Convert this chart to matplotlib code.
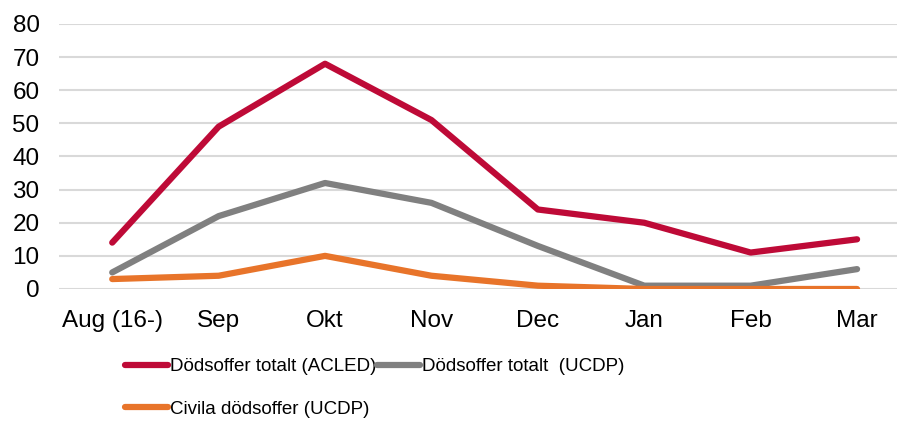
import numpy as np
import matplotlib.pyplot as plt

plt.rcParams['font.family'] = ['Liberation Sans', 'DejaVu Sans']

months = ["Aug (16-)", "Sep", "Okt", "Nov", "Dec", "Jan", "Feb", "Mar"]
acled_total = [14, 49, 68, 51, 24, 20, 11, 15]
ucdp_total = [5, 22, 32, 26, 13, 1, 1, 6]
ucdp_civil = [3, 4, 10, 4, 1, 0, 0, 0]

series = [
    ("Dödsoffer totalt (ACLED)", acled_total, "#BE0A37"),
    ("Dödsoffer totalt  (UCDP)", ucdp_total, "#808080"),
    ("Civila dödsoffer (UCDP)", ucdp_civil, "#E8742A"),
]

fig = plt.figure(figsize=(8.97, 4.23), dpi=100)
ax = fig.add_axes([0.0658, 0.3168, 0.949, 0.6265])

x = np.arange(len(months))
lines = []
for label, vals, color in series:
    ln, = ax.plot(x, vals, color=color, lw=4.5, label=label,
                  solid_capstyle='round', solid_joinstyle='round')
    lines.append(ln)

ax.set_xlim(-0.5, len(months) - 0.5)
ax.set_ylim(0, 80)
ax.set_yticks(range(0, 81, 10))
ax.set_xticks(x)
ax.set_xticklabels(months)
ax.grid(axis='y', color='#D9D9D9', lw=1.5)
ax.set_axisbelow(True)
for s in ax.spines.values():
    s.set_visible(False)
ax.tick_params(axis='both', length=0, labelsize=17.5, colors='black')
ax.tick_params(axis='y', pad=14)
ax.tick_params(axis='x', pad=15)

# row-major order: ACLED, UCDP on first row, civil on second
order = [0, 2, 1]
fig.legend([lines[i] for i in order], [series[i][0] for i in order],
           loc='upper left', bbox_to_anchor=(0.139, 0.153), ncol=2,
           frameon=False, handlelength=2.3, handletextpad=0.1,
           columnspacing=0.05, labelspacing=1.36, borderaxespad=0, borderpad=0,
           fontsize=13.5)

fig.savefig("out.png", dpi=100)
